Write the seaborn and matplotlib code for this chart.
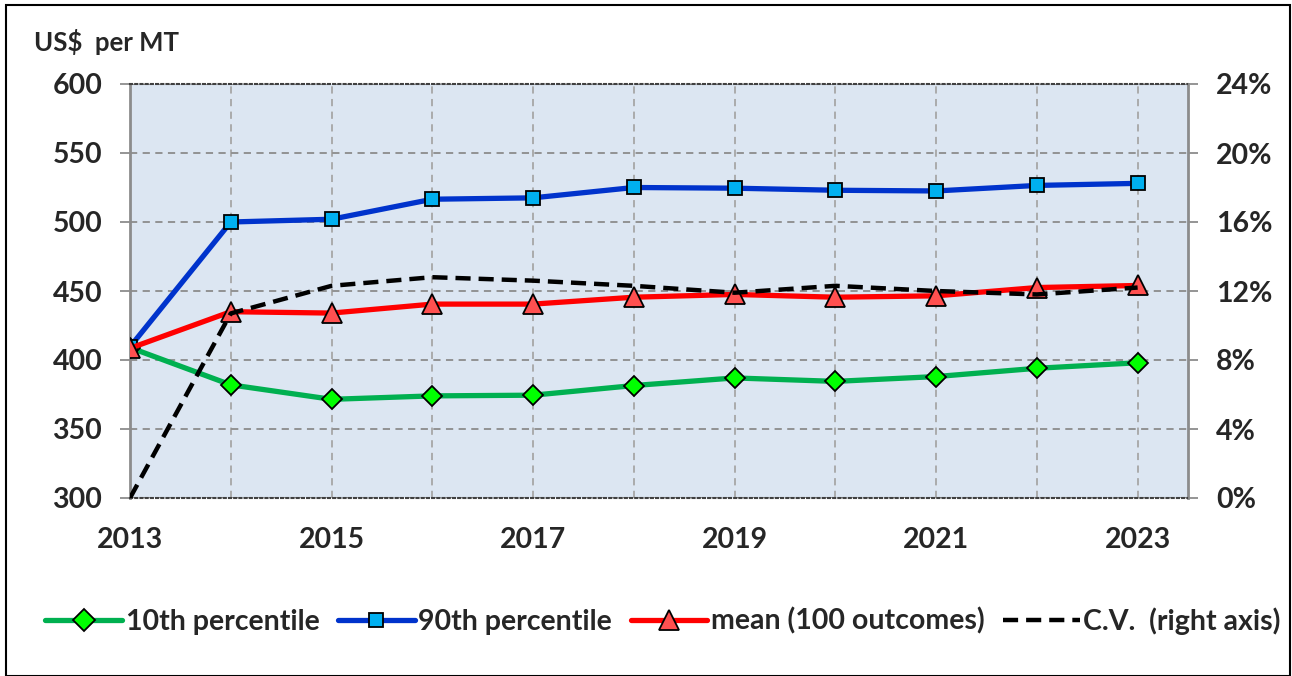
import matplotlib
matplotlib.use("Agg")
import matplotlib.pyplot as plt
import matplotlib.ticker as mticker
from matplotlib.lines import Line2D
from matplotlib.patches import Rectangle
import seaborn as sns
import pandas as pd

years = [2013, 2014, 2015, 2016, 2017, 2018, 2019, 2020, 2021, 2022, 2023]
p10 = [409, 382, 371.5, 374, 374.5, 381.5, 387, 384.5, 388, 394, 398]
p90 = [409.5, 500, 502, 516.5, 517.5, 525, 524.5, 523, 522.5, 526.5, 528]
mean = [408.5, 435, 434, 440.5, 440.5, 445.5, 447.5, 445.5, 446.5, 452.5, 454]
cv = [0.0, 0.107, 0.123, 0.128, 0.126, 0.123, 0.119, 0.123, 0.12, 0.118, 0.122]

left_ticks = [300, 350, 400, 450, 500, 550, 600]
right_ticks = [0.0, 0.04, 0.08, 0.12, 0.16, 0.20, 0.24]
xlabel_years = [2013, 2015, 2017, 2019, 2021, 2023]
labels = ["10th percentile", "90th percentile", "mean (100 outcomes)", "C.V.  (right axis)"]

sns.set_style("white")
plt.rcParams["font.family"] = ["Lato", "DejaVu Sans"]
FW = "bold"
FS = 20.5

df = pd.DataFrame({"year": years, "p10": p10, "p90": p90, "mean": mean, "cv": cv})

fig = plt.figure(figsize=(12.92, 6.76), dpi=100)
ax = fig.add_axes([130 / 1292, 1 - 498 / 676, (1188 - 130) / 1292, (498 - 84) / 676])
ax.set_facecolor("#DCE6F2")

green_line, green_mk = "#00B050", "#00FF00"
blue_line, blue_mk = "#0033CC", "#00B0F0"
red_line, red_mk = "#FF0000", "#FF5050"

sns.lineplot(data=df, x="year", y="p10", ax=ax, color=green_line, lw=3.8,
             marker="D", markersize=10.5, markerfacecolor=green_mk,
             markeredgecolor="black", markeredgewidth=1.3, zorder=4)
sns.lineplot(data=df, x="year", y="p90", ax=ax, color=blue_line, lw=3.8,
             marker="s", markersize=10, markerfacecolor=blue_mk,
             markeredgecolor="black", markeredgewidth=1.3, zorder=4)
sns.lineplot(data=df, x="year", y="mean", ax=ax, color=red_line, lw=3.8,
             marker="^", markersize=14, markerfacecolor=red_mk,
             markeredgecolor="black", markeredgewidth=1.3, zorder=5)

ax.set_xlim(2013, 2023.5)
ax.set_ylim(300, 600)
ax.set_yticks(left_ticks)
ax.set_xticks(years, minor=True)
ax.set_xticks(xlabel_years)
ax.set_xticklabels([str(y) for y in xlabel_years])
ax.set_xlabel("")
ax.set_ylabel("")
ax.grid(True, which="major", axis="y", color="#8C8C8C", ls=(0, (4, 3)), lw=1.3)
ax.grid(True, which="both", axis="x", color="#A6A6A6", ls=(0, (4, 3)), lw=1.3)
ax.tick_params(axis="y", which="major", labelsize=FS, length=7, color="#8C8C8C",
               width=1.3, pad=13)
ax.tick_params(axis="x", which="both", labelsize=FS, length=7, color="#A6A6A6",
               width=1.3, pad=14)
for lab in ax.get_xticklabels() + ax.get_yticklabels():
    lab.set_fontweight(FW)

for s in ["left", "right"]:
    ax.spines[s].set_color("#8C8C8C")
    ax.spines[s].set_linewidth(2)
for s in ["top", "bottom"]:
    ax.spines[s].set_color("#404040")
    ax.spines[s].set_linewidth(1.5)
    ax.spines[s].set_linestyle((0, (1, 1.5)))

ax2 = ax.twinx()
sns.lineplot(data=df, x="year", y="cv", ax=ax2, color="black", lw=3.2,
             zorder=3)
ax2.lines[0].set_dashes([3.4, 1.8])
ax2.set_ylim(0, 0.24)
ax2.set_yticks(right_ticks)
ax2.yaxis.set_major_formatter(mticker.PercentFormatter(1.0, decimals=0))
ax2.set_ylabel("")
ax2.tick_params(axis="y", labelsize=FS, length=7, color="#8C8C8C", width=1.3, pad=13)
for lab in ax2.get_yticklabels():
    lab.set_fontweight(FW)
for s in ax2.spines.values():
    s.set_visible(False)

fig.text(34 / 1292, 1 - 42 / 676, "US$  per MT", fontsize=18.5, fontweight=FW,
         va="center", ha="left")

handles = [
    Line2D([], [], color=green_line, lw=3.8, marker="D", markersize=11,
           markerfacecolor=green_mk, markeredgecolor="black", markeredgewidth=1.3),
    Line2D([], [], color=blue_line, lw=3.8, marker="s", markersize=10,
           markerfacecolor=blue_mk, markeredgecolor="black", markeredgewidth=1.3),
    Line2D([], [], color=red_line, lw=3.8, marker="^", markersize=14,
           markerfacecolor=red_mk, markeredgecolor="black", markeredgewidth=1.3),
    Line2D([], [], color="black", lw=3.2, dashes=[3.4, 1.8]),
]
leg = fig.legend(handles, labels, loc="center", bbox_to_anchor=(663 / 1292, 1 - 621 / 676),
                 ncol=4, frameon=False, handlelength=2.7, handletextpad=0.12,
                 columnspacing=0.65, borderpad=0, borderaxespad=0,
                 prop={"size": FS, "weight": FW})

fig.patches.append(Rectangle((6 / 1292, 0), 1284 / 1292, 1 - 5 / 676,
                             transform=fig.transFigure, fill=False,
                             edgecolor="black", lw=1.5))

fig.savefig("out.png", dpi=100, facecolor="white")
